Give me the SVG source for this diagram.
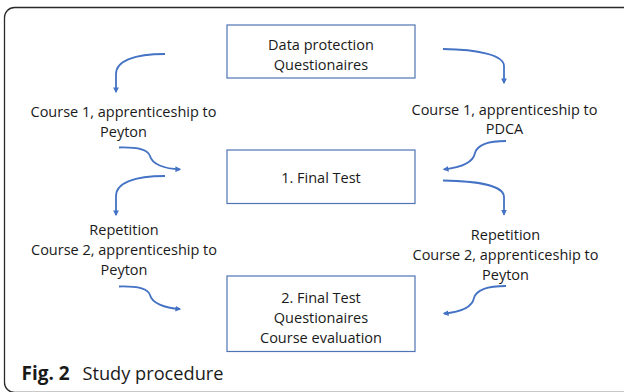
<svg xmlns="http://www.w3.org/2000/svg" width="624" height="392" viewBox="0 0 624 392">
<style>
.frame{fill:none;stroke:#2a2a2a;stroke-width:1.3}
.box{fill:#fff;stroke:#4f74b3;stroke-width:1.2}
.t{font-family:"Open Sans","Liberation Sans",sans-serif;font-size:14.5px;fill:#1a1a1a;text-anchor:middle}
.arr{fill:none;stroke:#4472c4;stroke-width:1.8;marker-end:url(#ah)}
.cap{font-family:"Open Sans","Liberation Sans",sans-serif;font-size:19px;fill:#1a1a1a}
</style>
<defs>
<marker id="ah" viewBox="0 0 10 10" refX="8" refY="5" markerWidth="3.2" markerHeight="3.2" orient="auto" markerUnits="strokeWidth">
<path d="M0,0 L10,5 L0,10 z" fill="#4472c4"/>
</marker>
</defs>
<rect class="frame" x="4.5" y="7.5" width="630" height="385" rx="10"/>
<g id="n1">
<rect class="box" x="227" y="25" width="188" height="53"/>
<text class="t" x="321" y="50">Data protection</text>
<text class="t" x="321" y="69.5">Questionaires</text>
</g>
<g id="n2">
<text class="t" x="123.5" y="117">Course 1, apprenticeship to</text>
<text class="t" x="123.5" y="137">Peyton</text>
</g>
<g id="n3">
<text class="t" x="504.5" y="114.5">Course 1, apprenticeship to</text>
<text class="t" x="504.5" y="134">PDCA</text>
</g>
<g id="n4">
<rect class="box" x="227" y="150" width="188" height="53.5"/>
<text class="t" x="321" y="183">1. Final Test</text>
</g>
<g id="n5">
<text class="t" x="124" y="235">Repetition</text>
<text class="t" x="124" y="255">Course 2, apprenticeship to</text>
<text class="t" x="124" y="275">Peyton</text>
</g>
<g id="n6">
<text class="t" x="505.5" y="240">Repetition</text>
<text class="t" x="505.5" y="259.5">Course 2, apprenticeship to</text>
<text class="t" x="505.5" y="279.5">Peyton</text>
</g>
<g id="n7">
<rect class="box" x="227" y="276" width="188" height="75.5"/>
<text class="t" x="321" y="303">2. Final Test</text>
<text class="t" x="321" y="322.5">Questionaires</text>
<text class="t" x="321" y="342.5">Course evaluation</text>
</g>
<g id="connectors">
<path class="arr" d="M165,54 C134,54 116,61 116,74 L116,92"/>
<path class="arr" d="M443,49 C478,49.5 504,55 504,66 L504,83"/>
<path class="arr" d="M119,147.5 C140,147 148,150 150,156 C152,164 164,169 180,169.3"/>
<path class="arr" d="M506,141 C486,141 477,146 475,153 C473,163 461,167.5 444,169.3"/>
<path class="arr" d="M165,176 C134,176 116,183 116,196 L116,215"/>
<path class="arr" d="M443,180.5 C478,181 504,186 504,197 L504,214.5"/>
<path class="arr" d="M119,286.5 C140,286 148,289 150,295 C152,303 164,308 180,309"/>
<path class="arr" d="M506,286 C486,286 476,291 474,298 C472,308 461,312 444,313.5"/>
</g>
<g id="caption">
<text class="cap" x="21.5" y="379.5" font-weight="bold">Fig. 2</text>
<text class="cap" x="82.5" y="379.5" font-size="18.2" style="font-size:18.2px">Study procedure</text>
</g>
</svg>
